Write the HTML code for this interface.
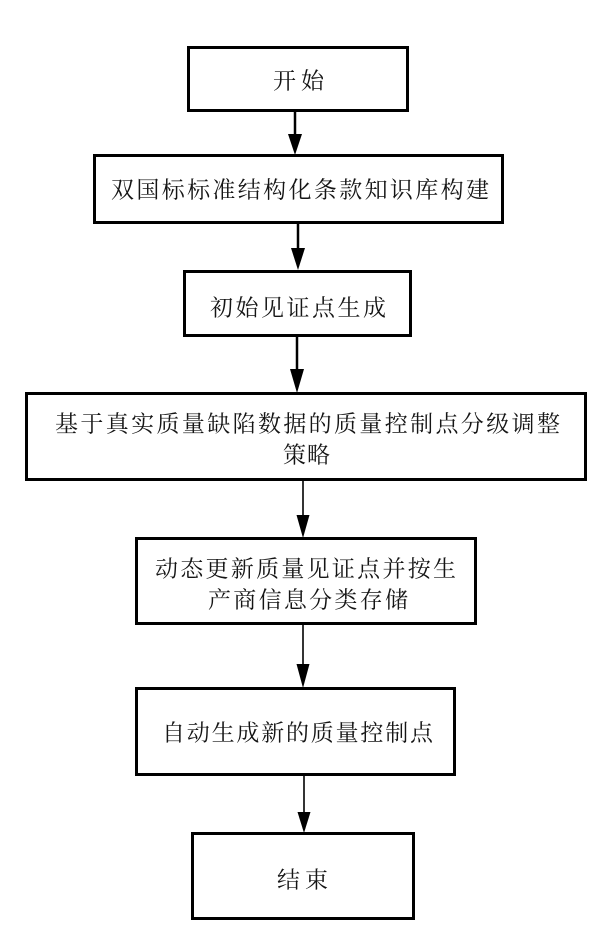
<!DOCTYPE html>
<html>
<head>
<meta charset="utf-8">
<style>
  html, body { margin: 0; padding: 0; background: #fff; }
  svg { display: block; }
  text { font-family: "Noto Serif CJK SC", "Liberation Serif", "Noto Sans CJK SC", serif; font-size: 23px; fill: #151515; }
</style>
</head>
<body>
<svg width="612" height="949" viewBox="0 0 612 949" xmlns="http://www.w3.org/2000/svg">
  <rect x="0" y="0" width="612" height="949" fill="#fff"/>
  <g fill="none" stroke="#000" stroke-width="3">
    <rect x="188.5" y="47.5" width="219" height="63"/>
    <rect x="94.5" y="155.5" width="408" height="67"/>
    <rect x="184.5" y="271.5" width="226" height="64"/>
    <rect x="26.5" y="393.5" width="559" height="86"/>
    <rect x="136.5" y="538.5" width="339" height="85"/>
    <rect x="136.5" y="688.5" width="318" height="86"/>
    <rect x="192.5" y="833.5" width="221" height="85"/>
  </g>
  <!-- arrows -->
  <g stroke="#000">
    <line x1="295" y1="112" x2="295" y2="136" stroke-width="2.5"/>
    <line x1="298" y1="224" x2="298" y2="250" stroke-width="2.5"/>
    <line x1="297" y1="337" x2="297" y2="371" stroke-width="2.5"/>
    <line x1="303" y1="481" x2="303" y2="517" stroke-width="1.6"/>
    <line x1="303" y1="625" x2="303" y2="666" stroke-width="1.6"/>
    <line x1="304" y1="776" x2="304" y2="814" stroke-width="1.6"/>
  </g>
  <g fill="#000">
    <polygon points="288,134 302,134 295,155"/>
    <polygon points="291,248 305,248 298,270"/>
    <polygon points="290,369 304,369 297,393"/>
    <polygon points="296.5,515 309.5,515 303,538"/>
    <polygon points="296.5,664 309.5,664 303,688"/>
    <polygon points="297.5,812 310.5,812 304,833"/>
  </g>
  <!-- labels -->
  <g dominant-baseline="central">
    <text x="273" y="79" textLength="51" lengthAdjust="spacing">开始</text>
    <text x="111" y="188" textLength="378" lengthAdjust="spacing">双国标标准结构化条款知识库构建</text>
    <text x="210" y="306" textLength="176" lengthAdjust="spacing">初始见证点生成</text>
    <text x="55" y="422" textLength="505" lengthAdjust="spacing">基于真实质量缺陷数据的质量控制点分级调整</text>
    <text x="283" y="453" textLength="47" lengthAdjust="spacing">策略</text>
    <text x="155" y="567" textLength="301" lengthAdjust="spacing">动态更新质量见证点并按生</text>
    <text x="208" y="598" textLength="200" lengthAdjust="spacing">产商信息分类存储</text>
    <text x="162" y="731" textLength="271" lengthAdjust="spacing">自动生成新的质量控制点</text>
    <text x="277" y="878" textLength="51" lengthAdjust="spacing">结束</text>
  </g>
</svg>
</body>
</html>
